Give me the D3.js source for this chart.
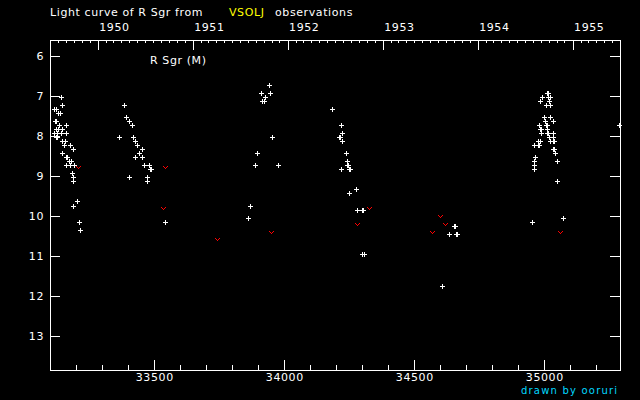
<!DOCTYPE html>
<html><head><meta charset="utf-8">
<script src="https://cdn.jsdelivr.net/npm/d3@7"></script>
<style>
html,body{margin:0;padding:0;background:#000;}
svg{display:block;background:#000;}
text{font-family:"DejaVu Sans",sans-serif;font-size:11px;letter-spacing:0.6px;}
</style></head><body>
<svg id="c" width="640" height="400"></svg>
<script>
// Visual observations (JD - 2400000, magnitude)
const visJD = [
 33141,33146,33114,33123,33131,33138,33121,33117,33135,33162,33123,33131,33144,33115,33126,33142,33162,33126,33122,
 33146,33158,33154,33177,33188,33146,33163,33159,33171,33180,33162,33177,33192,33185,33188,33188,33204,33188,33212,33215,
 33385,33392,33404,33415,33365,33419,33427,33435,33454,33442,33427,33454,33462,33481,33486,33482,33404,33473,33473,33542,
 33942,33912,33946,33927,33915,33923,33954,33896,33889,33977,33869,33862,
 34185,34219,34223,34213,34209,34223,34238,34242,34245,34241,34219,34253,34249,34277,34250,34281,34304,34300,34300,34308,
 34656,34652,34635,34664,34660,34608,
 35014,35010,34992,35014,35021,34985,35019,35008,35023,35000,35023,35004,35035,34981,35010,35006,35289,34987,34983,35012,
 34988,35015,35011,35035,35019,35035,34977,34985,35023,35036,35032,34962,34980,34976,35036,35032,35042,34965,34962,35050,
 34962,34962,35050,35073,34954
];
const visMag = [
 7.0,7.2,7.3,7.3,7.4,7.4,7.6,7.6,7.7,7.7,7.8,7.8,7.8,7.9,7.9,7.9,7.9,8.0,8.0,
 8.1,8.1,8.2,8.2,8.3,8.4,8.5,8.5,8.6,8.6,8.7,8.7,8.7,8.9,9.0,9.1,9.6,9.73,10.13,10.33,
 7.2,7.5,7.6,7.7,8.0,8.0,8.1,8.2,8.3,8.4,8.5,8.5,8.7,8.7,8.8,8.8,9.0,9.0,9.1,10.13,
 6.7,6.9,6.9,7.0,7.1,7.1,8.0,8.4,8.7,8.7,9.73,10.03,
 7.3,7.7,7.9,8.0,8.0,8.1,8.4,8.6,8.7,8.7,8.8,8.8,8.8,9.3,9.4,9.83,9.83,9.83,10.93,10.93,
 10.23,10.23,10.43,10.43,10.43,11.73,
 6.9,6.9,7.0,7.0,7.0,7.1,7.1,7.2,7.2,7.5,7.5,7.6,7.6,7.7,7.7,7.7,7.7,7.8,7.8,7.8,
 7.9,7.9,7.9,7.9,8.0,8.0,8.1,8.1,8.1,8.1,8.1,8.2,8.2,8.2,8.3,8.3,8.4,8.5,8.6,8.6,
 8.7,8.8,9.1,10.03,10.13
];
// Fainter-than observations
const limJD  = [33208,33542,33535,33740,33950,34327,34281,34600,34619,34569,35062];
const limMag = [8.7,8.7,9.72,10.5,10.33,9.73,10.13,9.93,10.13,10.33,10.33];

const jdDomain = [33099, 35291];
const magDomain = [5.6, 13.85];
const magTicks = [6,7,8,9,10,11,12,13];
const jdMajorTicks = [33500,34000,34500,35000];
const jdMinorTicks = [33100,33200,33300,33400,33600,33700,33800,33900,34100,34200,34300,34400,34600,34700,34800,34900,35100,35200];
const years = [1950,1951,1952,1953,1954,1955];

const L=50,R=620,T=40,B=370;
const svg = d3.select("#c");
const x = d3.scaleLinear().domain(jdDomain).range([L,R]);
const y = d3.scaleLinear().domain(magDomain).range([T,B]);
const toJD = dt => dt.getTime()/86400000 + 40587.5;

// frame
svg.append("rect").attr("x",L+0.5).attr("y",T+0.5).attr("width",R-L).attr("height",B-T)
  .attr("fill","none").attr("stroke","#fff").attr("shape-rendering","crispEdges");

function style(g){
  g.select(".domain").remove();
  g.selectAll("line").attr("stroke","#fff").attr("shape-rendering","crispEdges");
  g.selectAll("text").attr("fill","#fff").style("font-family","DejaVu Sans").style("font-size","11px");
}

// left & right
svg.append("g").attr("transform",`translate(${L},0)`)
  .call(d3.axisLeft(y).tickValues(magTicks).tickSize(-10).tickPadding(6)).call(style);
svg.append("g").attr("transform",`translate(${R},0)`)
  .call(d3.axisRight(y).tickValues(magTicks).tickSize(-10).tickFormat("")).call(style);

// bottom
svg.append("g").attr("transform",`translate(0,${B})`)
  .call(d3.axisBottom(x).tickValues(jdMajorTicks).tickSize(-10).tickPadding(3).tickFormat(d3.format("d"))).call(style);
svg.append("g").attr("transform",`translate(0,${B})`)
  .call(d3.axisBottom(x).tickValues(jdMinorTicks).tickSize(-5).tickFormat("")).call(style);

// top: calendar
const yearJD = years.map(yr => toJD(new Date(Date.UTC(yr,0,1))));
const monthJD = d3.utcMonth.range(new Date(Date.UTC(1949,6,1)), new Date(Date.UTC(1955,9,1)))
  .filter(d => d.getUTCMonth()!==0).map(toJD).filter(j => j>jdDomain[0] && j<jdDomain[1]);
const topG = svg.append("g").attr("transform",`translate(0,${T})`)
  .call(d3.axisTop(x).tickValues(yearJD).tickSize(-10).tickPadding(9).tickFormat((d,i)=>years[i])).call(style);
topG.selectAll("text").attr("text-anchor","start").attr("x",1);
svg.append("g").attr("transform",`translate(0,${T})`)
  .call(d3.axisTop(x).tickValues(monthJD).tickSize(-3).tickFormat("")).call(style);

// titles
svg.append("text").attr("x",50).attr("y",16).attr("fill","#fff").text("Light curve of R Sgr from");
svg.append("text").attr("x",229).attr("y",16).attr("fill","#ffff00").text("VSOLJ");
svg.append("text").attr("x",275).attr("y",16).attr("fill","#fff").text("observations");
svg.append("text").attr("x",150).attr("y",64).attr("fill","#fff").text("R Sgr (M)");
svg.append("text").attr("x",521).attr("y",394).attr("fill","#00d8ff")
  .style("font-size","10px").style("letter-spacing","1.2px").text("drawn by ooruri");

// visual crosses
const vis = visJD.map((j,i)=>({jd:j,mag:visMag[i]}));
svg.append("g").selectAll("path").data(vis).join("path")
  .attr("d", d => { const px=Math.round(x(d.jd)), py=Math.round(y(d.mag))+1;
    return `M${px-2},${py+0.5}h5M${px+0.5},${py-2}v5`; })
  .attr("stroke","#fff").attr("stroke-width",1).attr("fill","none").attr("shape-rendering","crispEdges");

// fainter-than marks
const vShape = [[-2,-1],[2,-1],[-1,0],[1,0],[0,1]];
const lim = limJD.map((j,i)=>({jd:j,mag:limMag[i]}));
svg.append("g").selectAll("g").data(lim).join("g")
  .attr("transform", d => `translate(${Math.round(x(d.jd))},${Math.round(y(d.mag))+3})`)
  .selectAll("rect").data(vShape).join("rect")
  .attr("x", p=>p[0]).attr("y", p=>p[1]).attr("width",1).attr("height",1)
  .attr("fill","#f00").attr("shape-rendering","crispEdges");
</script>
</body></html>
